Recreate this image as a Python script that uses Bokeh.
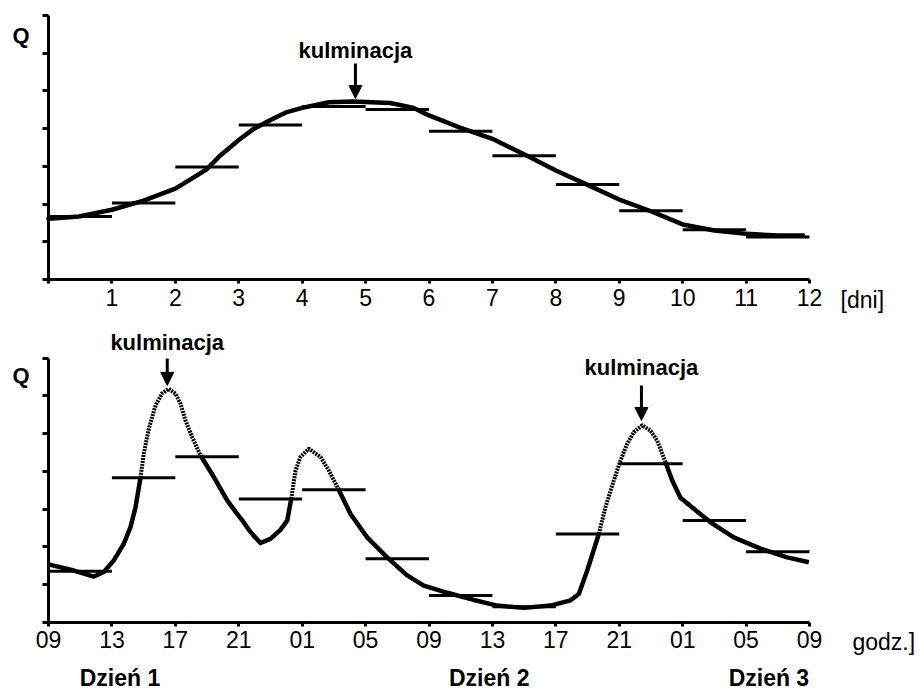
from bokeh.plotting import figure
from bokeh.layouts import column
from bokeh.models import Range1d, FixedTicker, Label, Arrow, NormalHead, LinearAxis
from bokeh.embed import file_html
from bokeh.resources import INLINE

FONT = "Liberation Sans"

# ---------------- data: top panel (days) ----------------
top_days = [0, 0.48, 1, 1.5, 2, 2.29, 2.5, 2.71, 3, 3.24, 3.5, 3.76, 4, 4.42, 4.8, 5.39, 5.76, 6.0, 6.5, 7, 7.5, 8, 8.5, 9, 9.5, 10, 10.5, 11, 11.5, 11.9]
top_q = [1.61, 1.67, 1.85, 2.09, 2.41, 2.71, 2.93, 3.29, 3.70, 4.00, 4.23, 4.44, 4.55, 4.70, 4.72, 4.68, 4.55, 4.35, 4.02, 3.73, 3.32, 2.89, 2.51, 2.12, 1.81, 1.46, 1.30, 1.21, 1.17, 1.17]
top_bar_start = [0, 1, 2, 3, 4, 5, 6, 7, 8, 9, 10, 11]
top_bar_len = 1
top_bar_q = [1.67, 2.03, 2.98, 4.10, 4.59, 4.51, 3.93, 3.28, 2.52, 1.82, 1.32, 1.13]
top_ticks = [0, 1, 2, 3, 4, 5, 6, 7, 8, 9, 10, 11, 12]
top_tick_labels = ["", "1", "2", "3", "4", "5", "6", "7", "8", "9", "10", "11", "12"]
top_peak_day = 4.84

# ---------------- data: bottom panel (hours from 09:00 of day 1) ----------------
solid1_h = [0, 0.13, 1.6, 2.86, 3.49, 4.12, 4.75, 5.17, 5.49, 5.80]
solid1_q = [1.53, 1.52, 1.37, 1.21, 1.33, 1.64, 2.08, 2.52, 3.05, 3.83]
dot1_h = [5.80, 6.01, 6.33, 6.75, 7.17, 7.59, 8.01, 8.33, 8.64, 9.06, 9.59]
dot1_q = [3.83, 4.47, 5.13, 5.75, 6.07, 6.19, 6.06, 5.79, 5.35, 4.91, 4.42]
solid2_h = [9.59, 10.43, 11.27, 11.9, 12.22, 12.74, 13.37, 14.0, 14.63, 15.06, 15.31]
solid2_q = [4.42, 3.85, 3.23, 2.87, 2.70, 2.39, 2.10, 2.21, 2.45, 2.70, 3.27]
dot2_h = [15.31, 15.58, 15.89, 16.42, 17.16, 17.68, 18.25]
dot2_q = [3.27, 4.02, 4.38, 4.60, 4.38, 4.02, 3.56]
solid3_h = [18.25, 19.05, 20.1, 21.36, 22.62, 23.67, 25.15, 26.83, 28.3, 29.98, 31.66, 32.93, 33.45, 33.98, 34.71]
solid3_q = [3.56, 2.87, 2.25, 1.72, 1.24, 0.97, 0.78, 0.59, 0.44, 0.38, 0.44, 0.58, 0.75, 1.37, 2.34]
dot3_h = [34.71, 35.13, 35.66, 36.08, 36.5, 36.92, 37.45, 37.97, 38.39, 38.92]
dot3_q = [2.34, 3.05, 3.76, 4.29, 4.73, 5.04, 5.22, 5.08, 4.82, 4.24]
solid4_h = [38.92, 39.34, 39.86, 40.7, 41.76, 43.22, 44.91, 46.59, 47.96]
solid4_q = [4.24, 3.76, 3.30, 3.01, 2.65, 2.25, 1.95, 1.72, 1.59]
bot_bar_start = [0, 4, 8, 12, 16, 20, 24, 28, 32, 36, 40, 44]
bot_bar_len = 4
bot_bar_q = [1.35, 3.83, 4.39, 3.27, 3.51, 1.68, 0.71, 0.41, 2.34, 4.20, 2.70, 1.87]
bot_ticks = [0, 4, 8, 12, 16, 20, 24, 28, 32, 36, 40, 44, 48]
bot_tick_labels = ["09", "13", "17", "21", "01", "05", "09", "13", "17", "21", "01", "05", "09"]
bot_peak_hours = [7.49, 37.4]
day_labels = ["Dzień 1", "Dzień 2", "Dzień 3"]
day_label_h = [1.97, 25.26, 42.9]

# ---------------- layout geometry (pixels) ----------------
W = 920
X0PX, X1PX = 48, 809
YUNIT = 37.71


def panel(height, y0px, xmax, ticks, labels):
    xunit = (X1PX - X0PX) / xmax
    p = figure(width=W, height=height,
               x_range=Range1d(-X0PX / xunit, xmax + (W - X1PX) / xunit),
               y_range=Range1d(-(height - y0px) / YUNIT, y0px / YUNIT),
               output_backend="svg", toolbar_location=None,
               x_axis_location=None, y_axis_location=None, min_border=0)
    p.outline_line_color = None
    p.background_fill_color = "white"
    p.border_fill_color = "white"
    p.grid.visible = False

    xa = LinearAxis(fixed_location=0, bounds=(0, xmax), ticker=FixedTicker(ticks=ticks),
                    major_label_overrides={t: l for t, l in zip(ticks, labels)})
    ya = LinearAxis(fixed_location=0, bounds=(0, 7), ticker=FixedTicker(ticks=[0, 1, 2, 3, 4, 5, 6, 7]))
    for ax in (xa, ya):
        ax.axis_line_width = 3
        ax.axis_line_color = "black"
        ax.major_tick_line_width = 3
        ax.major_tick_line_color = "black"
        ax.minor_tick_line_color = None
        ax.major_tick_in = 0
    ya.major_tick_out = 6
    ya.major_label_text_font_size = "0px"
    ya.major_label_text_color = None
    xa.major_tick_out = 4
    xa.major_label_standoff = 5
    xa.major_label_text_font = FONT
    xa.major_label_text_font_size = "23px"
    xa.major_label_text_color = "black"
    p.add_layout(xa, "below")
    p.add_layout(ya, "left")
    return p


def label(p, x, y, text, align="left", bold=False, size="23px"):
    p.add_layout(Label(x=x, y=y, text=text, text_align=align, text_baseline="middle",
                       text_font=FONT, text_font_size=size,
                       text_font_style="bold" if bold else "normal", text_color="black"))


def arrow(p, x, y0, y1):
    p.add_layout(Arrow(end=NormalHead(size=13, fill_color="black", line_color="black", line_width=1),
                       x_start=x, y_start=y0, x_end=x, y_end=y1, line_width=3, line_color="black"))


# ---------------- top panel ----------------
p1 = panel(320, 279, 12, top_ticks, top_tick_labels)
p1.line(top_days, top_q, line_width=4.5, line_color="black", line_join="round", line_cap="round")
p1.segment(x0=top_bar_start, x1=[s + top_bar_len for s in top_bar_start], y0=top_bar_q, y1=top_bar_q,
           line_width=3, line_color="black")
arrow(p1, top_peak_day, 5.73, 4.80)
label(p1, top_peak_day, 6.08, "kulminacja", align="center", bold=True, size="22px")
label(p1, -0.568, 6.47, "Q", bold=True, size="22px")
label(p1, 12.49, -0.544, "[dni]")

# ---------------- bottom panel ----------------
p2 = panel(370, 301.7, 48, bot_ticks, bot_tick_labels)
for hs, qs in [(solid1_h, solid1_q), (solid2_h, solid2_q), (solid3_h, solid3_q), (solid4_h, solid4_q)]:
    p2.line(hs, qs, line_width=4.5, line_color="black", line_join="round", line_cap="butt")
for hs, qs in [(dot1_h, dot1_q), (dot2_h, dot2_q), (dot3_h, dot3_q)]:
    p2.line(hs, qs, line_width=4, line_color="black", line_dash="2 1", line_join="round")
p2.segment(x0=bot_bar_start, x1=[s + bot_bar_len for s in bot_bar_start], y0=bot_bar_q, y1=bot_bar_q,
           line_width=3, line_color="black")
arrow(p2, bot_peak_hours[0], 6.99, 6.28)
label(p2, bot_peak_hours[0], 7.41, "kulminacja", align="center", bold=True, size="22px")
arrow(p2, bot_peak_hours[1], 6.28, 5.35)
label(p2, bot_peak_hours[1], 6.75, "kulminacja", align="center", bold=True, size="22px")
label(p2, -2.27, 6.53, "Q", bold=True, size="22px")
label(p2, 50.71, -0.524, "godz.]")
for t, h in zip(day_labels, day_label_h):
    label(p2, h, -1.476, t, bold=True)

layout = column(p1, p2, spacing=0)
open("out.html", "w").write(file_html(layout, INLINE))
